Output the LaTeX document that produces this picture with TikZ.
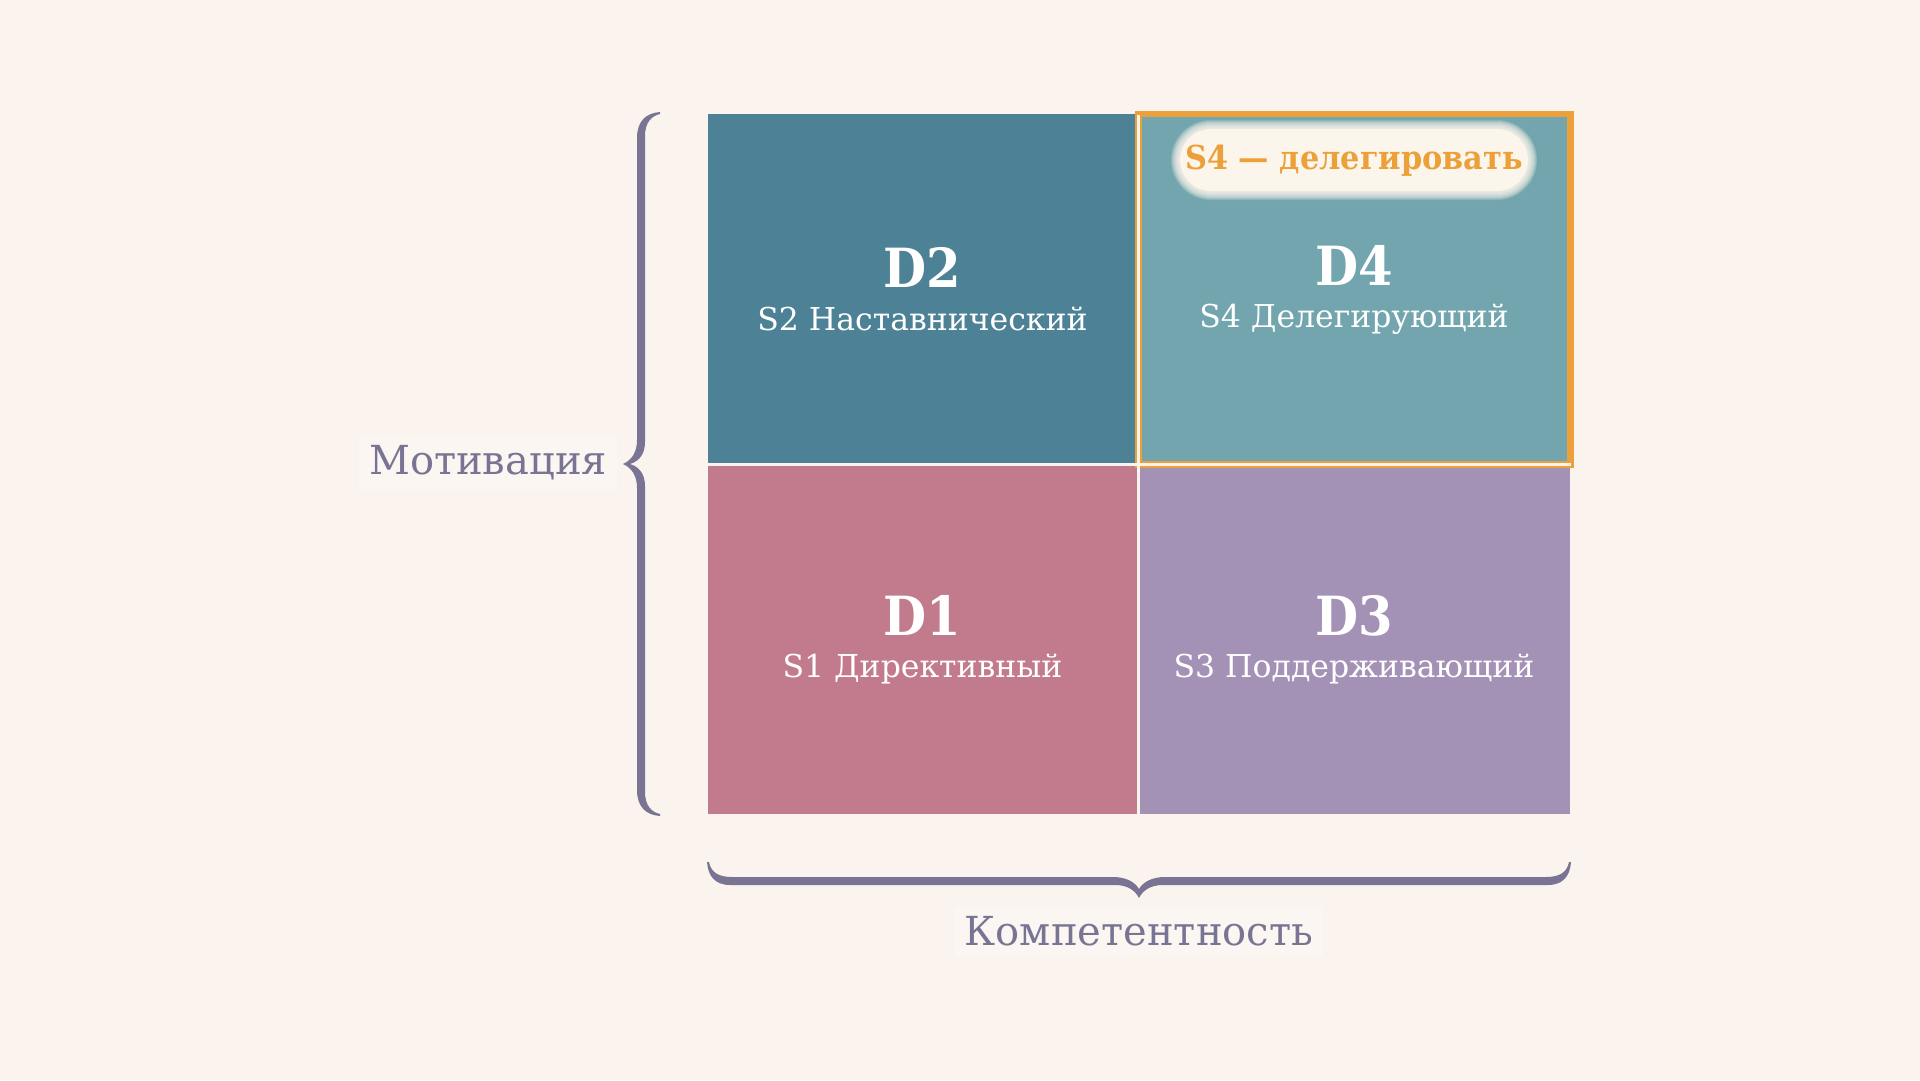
\documentclass[tikz,border=0pt]{standalone}
\usepackage{fontspec}
\setmainfont{DejaVu Serif}[FakeStretch=0.92]
\newfontfamily\plainserif{DejaVu Serif}
\definecolor{bgc}{HTML}{FBF4EE}
\definecolor{lblbg}{HTML}{FBF6F1}
\definecolor{ctwo}{HTML}{4D8195}
\definecolor{cfour}{HTML}{72A5AD}
\definecolor{cone}{HTML}{C27B8D}
\definecolor{cthree}{HTML}{A391B6}
\definecolor{orng}{HTML}{EBA03A}
\definecolor{sepc}{HTML}{FBF3EC}
\definecolor{axisc}{HTML}{7A7494}
\definecolor{pillc}{HTML}{FBF5EC}
\tikzset{
  cell/.style={draw=none, inner sep=0pt, minimum width=429pt, minimum height=349pt},
  dlabel/.style={anchor=base, text=white, inner sep=0pt, font=\fontsize{54}{54}\selectfont\bfseries},
  slabel/.style={anchor=base, text=white, inner sep=0pt, font=\plainserif\fontsize{31.5}{32}\selectfont},
  axlabel/.style={anchor=base, text=axisc, fill=lblbg, inner sep=10pt, font=\plainserif\fontsize{40}{40}\selectfont},
  sepline/.style={draw=sepc, line width=3pt},
}
\begin{document}
\begin{tikzpicture}[x=1pt,y=-1pt]
\useasboundingbox (0,0) rectangle (1920,1080);
\fill[bgc] (0,0) rectangle (1920,1080);

% cells
\node[cell, fill=ctwo] (c2) at (922.5,288.5) {};
\node[cell, fill=cfour, minimum width=431pt] (c4) at (1354.5,288.5) {};
\node[cell, fill=cone, minimum height=348pt] (c1) at (922.5,640) {};
\node[cell, fill=cthree, minimum width=431pt, minimum height=348pt] (c3) at (1354.5,640) {};

% highlight of D4
\draw[orng, line width=6.5pt] (1138.5,114) rectangle (1570.5,464.5);

% separators
\coordinate (vtop) at (1138.5,115);
\coordinate (vbot) at (1138.5,814);
\coordinate (hl) at (708,464.5);
\coordinate (hr) at (1570.5,464.5);
\draw[sepline] (vtop) -- (vbot);
\draw[sepline] (hl) -- (hr);

% pill
\foreach \i in {1,...,9}{
  \pgfmathsetmacro{\rr}{31+\i}
  \fill[pillc, opacity=0.2, rounded corners=\rr pt] (1180-\i,129-\i) rectangle (1528+\i,191+\i);
}
\fill[pillc, rounded corners=31pt] (1180,129) rectangle (1528,191);
\node[anchor=base, text=orng, inner sep=0pt, font=\fontsize{33}{33}\selectfont\bfseries] (pill) at (1354,169) {S4 — делегировать};

% texts
\node[dlabel] (d2) at (922.5,287) {D2};
\node[slabel] (s2) at (922.5,330) {S2 Наставнический};
\node[dlabel] (d4) at (1354,285) {D4};
\node[slabel] (s4) at (1354,327) {S4 Делегирующий};
\node[dlabel] (d1) at (922.5,635) {D1};
\node[slabel] (s1) at (922.5,677) {S1 Директивный};
\node[dlabel] (d3) at (1354,635) {D3};
\node[slabel] (s3) at (1354,677) {S3 Поддерживающий};

% braces
\fill[axisc] (660,112) .. controls (646,113) and (637,121) .. (637,138)
  -- (637,440) .. controls (637,452) and (632,460) .. (623,464)
  .. controls (632,468) and (637,476) .. (637,488)
  -- (637,790) .. controls (637,807) and (646,815) .. (660,816)
  -- (660,814) .. controls (651,812) and (645,805) .. (645,792)
  -- (645,486) .. controls (645,475) and (640,467) .. (630,464)
  .. controls (640,461) and (645,453) .. (645,442)
  -- (645,136) .. controls (645,123) and (651,116) .. (660,114) -- cycle;

\fill[axisc] (707,862) .. controls (708,876) and (715,885) .. (730,885)
  -- (1115,885) .. controls (1127,885) and (1135,890) .. (1139,898)
  .. controls (1143,890) and (1151,885) .. (1163,885)
  -- (1548,885) .. controls (1563,885) and (1570,876) .. (1571,862)
  -- (1569,862) .. controls (1567,872) and (1560,877) .. (1546,877)
  -- (1165,877) .. controls (1152,877) and (1143,882) .. (1139,889)
  .. controls (1135,882) and (1126,877) .. (1113,877)
  -- (732,877) .. controls (718,877) and (711,872) .. (709,862) -- cycle;

% axis labels
\node[axlabel] (mot) at (488,474) {Мотивация};
\node[axlabel] (komp) at (1139,945) {Компетентность};
\end{tikzpicture}
\end{document}
